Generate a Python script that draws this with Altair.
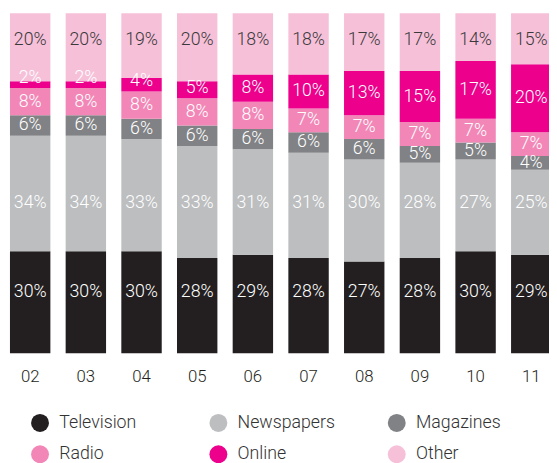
import altair as alt
import pandas as pd

years = ["02", "03", "04", "05", "06", "07", "08", "09", "10", "11"]
series = ["Television", "Newspapers", "Magazines", "Radio", "Online", "Other"]
television = [30, 30, 30, 28, 29, 28, 27, 28, 30, 29]
newspapers = [34, 34, 33, 33, 31, 31, 30, 28, 27, 25]
magazines = [6, 6, 6, 6, 6, 6, 6, 5, 5, 4]
radio = [8, 8, 8, 8, 8, 7, 7, 7, 7, 7]
online = [2, 2, 4, 5, 8, 10, 13, 15, 17, 20]
other = [20, 20, 19, 20, 18, 18, 17, 17, 14, 15]
colors = ["#231f20", "#bcbec0", "#808285", "#f287b7", "#ec008c", "#f7c0d9"]

# legend is laid out column by column (2 rows x 3 columns)
legend_order = ["Television", "Radio", "Newspapers", "Online", "Magazines", "Other"]
legend_colors = [colors[series.index(s)] for s in legend_order]

values = [television, newspapers, magazines, radio, online, other]
rows = []
for i, yr in enumerate(years):
    for j, (s, vals) in enumerate(zip(series, values)):
        rows.append({"year": yr, "series": s, "order": j, "value": vals[i]})
df = pd.DataFrame(rows)

FONT = "Roboto"

base = (
    alt.Chart(df)
    .transform_stack(
        stack="value",
        groupby=["year"],
        sort=[alt.SortField("order", order="ascending")],
        as_=["y0", "y1"],
    )
    .transform_calculate(
        mid="(datum.y0 + datum.y1) / 2",
        label="datum.value + '%'",
    )
    .transform_calculate(
        label_y=(
            "datum.series === 'Television' ? 18 : "
            "datum.series === 'Newspapers' ? 44.3 : "
            "datum.series === 'Other' ? 92.2 : "
            "datum.series === 'Online' ? max(datum.mid, datum.y0 + 3) : datum.mid"
        )
    )
)

x_enc = alt.X(
    "year:O",
    sort=years,
    scale=alt.Scale(range=[2, 551.5], paddingInner=0.2743, paddingOuter=0),
    axis=alt.Axis(
        title=None,
        labelAngle=0,
        domain=False,
        ticks=False,
        labelFont=FONT,
        labelFontSize=17,
        labelFontWeight=300,
        labelColor="#231f20",
        labelPadding=16,
        labelBaseline="top",
    ),
)

bars = base.mark_bar().encode(
    x=x_enc,
    y=alt.Y("y0:Q", scale=alt.Scale(domain=[0, 100]), axis=None),
    y2="y1:Q",
    color=alt.Color(
        "series:N",
        scale=alt.Scale(domain=legend_order, range=legend_colors),
        legend=alt.Legend(
            title=None,
            orient="none",
            legendX=23,
            legendY=406,
            columns=3,
            symbolType="circle",
            symbolSize=330,
            symbolStrokeWidth=0,
            labelFont=FONT,
            labelFontSize=18,
            labelFontWeight=300,
            labelColor="#333333",
            labelOffset=10,
            columnPadding=53,
            rowPadding=13,
            gridAlign="all",
            padding=0,
        ),
    ),
)

text = base.mark_text(font=FONT, fontSize=18, fontWeight=300).encode(
    x=x_enc,
    y=alt.Y("label_y:Q", scale=alt.Scale(domain=[0, 100]), axis=None),
    text="label:N",
    color=alt.condition(
        "datum.series === 'Other'", alt.value("#3a3a3a"), alt.value("#ffffff")
    ),
)

chart = (
    alt.layer(bars, text)
    .properties(
        width=549,
        height=345,
        autosize=alt.AutoSizeParams(type="none"),
        padding={"left": 0, "top": 2, "right": 0, "bottom": 108},
        background="white",
    )
    .configure_view(stroke=None)
)

chart.save("out.html", embed_options={"renderer": "svg", "actions": False})
